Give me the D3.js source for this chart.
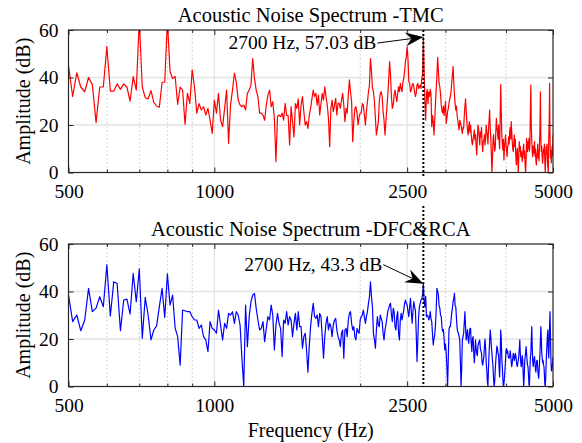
<!DOCTYPE html>
<html>
<head>
<meta charset="utf-8">
<script src="https://cdn.jsdelivr.net/npm/d3@7/dist/d3.min.js"></script>
<style>
  html, body { margin: 0; padding: 0; background: #fff; }
  svg { display: block; }
  text { font-family: "Liberation Serif", "Times New Roman", "DejaVu Serif", serif; fill: #000; }
</style>
</head>
<body>
<svg id="chart" width="582" height="443"></svg>
<script>
// ---------- data ----------
const freqStart = 500;      // Hz, first spectrum bin
const freqStep = 10;        // Hz, bin spacing
const xTicks = [500, 1000, 2500, 5000];
const xMinorTicks = [600, 700, 800, 900, 2000, 3000, 4000];
const yTicks = [0, 20, 40, 60];
const titles = ["Acoustic Noise Spectrum -TMC", "Acoustic Noise Spectrum -DFC&RCA"];
const markerFreq = 2700;
const markerValues = [57.03, 43.3];
const markerLabels = ["2700 Hz, 57.03 dB", "2700 Hz, 43.3 dB"];

const tmcAmplitude = [
  45, 32, 42, 36, 34, 40, 37, 21, 36, 36,
  53, 34.3, 34.3, 37.3, 35, 37.3, 36, 30, 40.4, 34.7,
  64, 36, 31.5, 31, 34.5, 29.5, 28, 27.5, 38, 38,
  64, 42.5, 39.6, 40.4, 28.7, 36, 34.7, 20.3, 33.3, 29.1,
  43.2, 36, 25, 29, 26.3, 27.7, 24.2, 27, 22, 16.5,
  30.5, 25, 33.3, 22, 19.3, 27, 34.7, 12.3, 28.4, 34.7,
  41.8, 38, 30.5, 28.4, 27.7, 28.4, 26.3, 33.3, 34.7, 36.8,
  48, 39.6, 34.7, 31.9, 25, 25, 24.2, 22, 28.4, 32.6,
  34.7, 27.7, 29.8, 22.8, 4.6, 23.5, 24.2, 23.5, 25, 22,
  29.1, 24, 24, 11.6, 27.7, 21.4, 15, 29, 27, 31,
  20, 28.4, 32, 25.6, 20, 21.4, 18.6, 24, 27, 31,
  34.7, 32, 33.3, 28.4, 32.6, 24.2, 29, 33.3, 30.5, 36.1,
  32, 28.4, 22.8, 10.9, 27, 30.5, 25.6, 28.4, 31.2, 24.2,
  29.1, 29.1, 27, 30.5, 33.3, 28.4, 21.4, 27, 25, 32.6,
  39, 34, 29.8, 13, 21.4, 27, 27.7, 25, 20, 23.5,
  25, 25, 29, 28.4, 24.2, 20, 25.6, 29.8, 34, 36.8,
  48, 42.5, 35.4, 34, 29.8, 22.8, 15.8, 18.6, 21.4, 29.8,
  33.3, 34, 32, 25.6, 22, 15.8, 21.4, 27, 32.6, 39,
  46.7, 41, 32, 27, 28.4, 32.6, 34.7, 32, 29.8, 33.3,
  36.1, 34, 37.5, 35.4, 34, 38.2, 39.6, 42.5, 46.7, 48.8,
  52.9, 48, 38.2, 37.5, 34, 34.7, 36.8, 37.5, 36.1, 34,
  32, 33.3, 36.8, 37.5, 35.4, 36.1, 36.8, 35.4, 39.6, 41,
  57.03, 42, 30, 22, 33, 35, 29, 34, 32, 35,
  33, 19.3, 24, 21.4, 15.8, 22, 29, 35, 41, 48.5,
  43, 37.5, 36, 33, 28.4, 26, 25, 28, 24, 27,
  30, 20.7, 23, 25.6, 27, 29, 31, 32, 34, 38,
  41, 44.6, 38, 32.6, 29, 26.3, 28, 24.2, 22, 20,
  17.9, 22, 21, 20, 18, 16.5, 19, 18.6, 24, 28,
  31, 26, 21.4, 18, 15.8, 19, 21.4, 17, 20, 16,
  13, 11.6, 14, 15.8, 18, 13.7, 16, 11, 7.4, 14,
  20, 18.6, 15, 11.6, 17, 15, 19, 12, 8.8, 13,
  13.7, 16, 11.6, 14, 20, 17, 15.8, 12, 18, 22,
  26.3, 19, 14.4, 8, 0, 6, 13.7, 16, 12, 9,
  10.2, 17, 22.8, 19, 17.2, 14, 20, 13.7, 10, 24,
  37, 26, 15.8, 12, 9.5, 14, 5.3, 10, 13, 15.8,
  12, 9, 6.7, 11, 11.6, 15, 12, 17.2, 19, 14,
  21.4, 17, 13, 10, 8.8, 12, 15.8, 11, 14, 7,
  3.2, 8, 10.2, 5, 0, 7, 13, 9, 11, 6.7,
  9, 7, 4.6, 8, 10.2, 12, 6, 9, 3, 0,
  5, 14.4, 11, 8.8, 13, 10, 14.4, 9, 12, 25,
  36.8, 20, 13, 9, 6.7, 11, 8, 10.2, 13, 7,
  10, 5, 3.2, 7, 8.8, 12, 6, 9, 5, 12,
  20, 34, 14, 8.8, 11, 6, 3.9, 7, 10, 8.8,
  12, 4, 0, 6, 10.9, 8, 12, 5, 2, 0,
  15, 20, 37.5, 14, 6, 9, 4, 8.8, 11, 7,
  15.8
];

const dfcAmplitude = [
  38.5, 27.3, 30.1, 23.5, 28, 41.3, 31.5, 33, 37.8, 33.6,
  51.2, 29.7, 44.1, 43.4, 23.5, 36.4, 36.8, 30.5, 47.6, 35.7,
  49.5, 20.3, 37.5, 30.1, 19.6, 23.8, 25.5, 33.6, 41.3, 29.1,
  47.4, 34.3, 38.5, 24.6, 21, 9, 32.2, 31.9, 31.5, 31.5,
  29.4, 28, 28, 24.5, 25.9, 21, 19.6, 14.7, 27.3, 24.5,
  23.8, 22.4, 32.2, 25.9, 19.6, 26.6, 24.5, 30.8, 30.1, 31.5,
  26.6, 31.5, 30.1, 25.9, 12, 0, 34.3, 16.8, 29.4, 35.7,
  38.5, 39.2, 32.9, 28, 23.8, 24.5, 27.3, 18.9, 24.5, 29.4,
  28, 34.3, 30.1, 15.4, 25.9, 30.8, 26.6, 24.5, 12.6, 28,
  26.6, 31.5, 25.9, 29.4, 28, 21, 26.6, 30.8, 23.8, 31.5,
  25.2, 25.2, 16.1, 21, 22.4, 15.4, 6, 17, 25.2, 30.8,
  35, 29.4, 28.7, 30.1, 25.2, 30.8, 29.4, 21, 11.9, 21,
  26.6, 29.4, 23.8, 26.6, 25.2, 21, 25.9, 28, 28.7, 23.8,
  21, 19.6, 16.8, 22.4, 23.8, 11.9, 23.8, 24.5, 21, 28,
  30.8, 31.5, 26.6, 23.8, 25.2, 21, 19.6, 24.5, 23.1, 22.4,
  28, 29.4, 30.1, 32.2, 29.4, 26.6, 29.4, 31.5, 35, 37.8,
  44.1, 37.8, 33.6, 22.4, 19.6, 16.1, 23.8, 29.4, 26, 25.2,
  30.1, 28.7, 27.3, 22.4, 19.6, 23.8, 25.9, 28.7, 31.5, 32.9,
  34.3, 35, 30.1, 27.3, 32.9, 31.5, 25.2, 23.8, 29.4, 31.5,
  22.4, 19.6, 28, 30.8, 28, 30.1, 32.2, 35, 36.4, 35,
  34.3, 31.5, 29.4, 33.6, 37.1, 31.5, 26.6, 31.5, 35.7, 33.6,
  32.2, 22.4, 10.5, 19.6, 29.4, 33.6, 35, 36.4, 37.1, 38.5,
  43.3, 36, 33.6, 38, 29.4, 30, 29.6, 28, 29, 31.5,
  28.5, 27.3, 22, 17.5, 20, 21.7, 26, 32, 41.3, 40,
  38.5, 34, 33, 30, 29.4, 25, 23.1, 24, 20, 15.4,
  18, 14, 8, 0, 12, 24, 25.2, 25.2, 28, 31,
  33, 35.7, 37, 39.2, 34, 33.6, 29, 24.5, 23, 22.4,
  21, 19.6, 10, 0, 8, 19.6, 21, 22.4, 27, 31.5,
  25, 19.6, 22, 24, 20, 18.2, 22, 24.5, 24.5, 18,
  14.7, 20, 21, 15, 10, 14, 19.6, 16, 14, 13,
  17, 18.2, 19, 19.6, 16, 15, 14, 10, 9, 11,
  12.6, 17, 20, 16, 10, 7, 2, 0, 8, 14,
  19, 23.8, 21, 17, 14, 11, 8.4, 3, 0, 2,
  7, 11, 14, 17, 16, 14, 13.3, 8, 4, 12,
  23.8, 20, 12, 8.4, 3, 0, 1, 4, 7, 11,
  15.4, 16, 14, 15, 13, 11.9, 12, 13, 15, 13,
  10, 8.4, 10, 12, 14, 13, 11, 12, 14, 13,
  11, 9, 8.4, 10, 11, 13, 16, 19.6, 14, 10,
  8.4, 10, 13, 11, 5, 0, 4, 10, 12.6, 14,
  16.8, 14, 11, 9, 8.4, 5, 1, 0, 7, 12,
  14, 20, 25.2, 17, 11, 8.4, 10, 12, 12.6, 10,
  7, 6, 9, 11, 11, 8, 5, 3.5, 6, 10,
  14, 20, 25.2, 20, 14, 12, 10, 11, 9, 8.4,
  5, 1, 0, 4, 10, 14, 18, 22, 23.8, 16,
  12, 18, 26, 31.5, 22, 12, 7, 6.5, 8, 10,
  12.6
];

// ---------- layout ----------
const plotLeft = 68.5, plotRight = 553;
const panels = [
  { top: 30, bottom: 172.5, values: tmcAmplitude, color: "#ff0000", title: titles[0],
    marker: markerValues[0], label: markerLabels[0], arrowFrom: [-46, 6], lineTop: 30, lineBottom: 178 },
  { top: 244, bottom: 386.5, values: dfcAmplitude, color: "#0000ff", title: titles[1],
    marker: markerValues[1], label: markerLabels[1], arrowFrom: [-40, -19], lineTop: 206, lineBottom: 387 }
];

const TICKFONT = 19.5, LABELFONT = 20, ANNOFONT = 19.5, TITLEFONT = 20.5;
const FAMILY = "Liberation Serif, Times New Roman, DejaVu Serif, serif";
const svg = d3.select("#chart");
const x = d3.scaleLog().domain([500, 5000]).range([plotLeft, plotRight]);

panels.forEach((p, i) => {
  const y = d3.scaleLinear().domain([0, 60]).range([p.bottom, p.top]);
  const g = svg.append("g");
  const clipId = "clip" + i;
  svg.append("clipPath").attr("id", clipId)
    .append("rect").attr("x", plotLeft).attr("y", p.top)
    .attr("width", plotRight - plotLeft).attr("height", p.bottom - p.top);

  // grid
  const grid = g.append("g");
  grid.selectAll(".gx").data(xTicks.slice(1, -1)).join("line")
    .attr("x1", d => x(d)).attr("x2", d => x(d)).attr("y1", p.top).attr("y2", p.bottom)
    .attr("stroke", "#e3e3e3").attr("stroke-width", 1.3);
  grid.selectAll(".gy").data(yTicks.slice(1, -1)).join("line")
    .attr("x1", plotLeft).attr("x2", plotRight).attr("y1", d => y(d)).attr("y2", d => y(d))
    .attr("stroke", "#e3e3e3").attr("stroke-width", 1.3);
  grid.selectAll(".gm").data(xMinorTicks).join("line")
    .attr("x1", d => x(d)).attr("x2", d => x(d)).attr("y1", p.top).attr("y2", p.bottom)
    .attr("stroke", "#c8c8c8").attr("stroke-width", 1).attr("stroke-dasharray", "1.5,2.5");

  // series
  const line = d3.line()
    .x((d, k) => x(freqStart + k * freqStep))
    .y(d => y(d));
  g.append("path").datum(p.values)
    .attr("clip-path", `url(#${clipId})`)
    .attr("fill", "none").attr("stroke", p.color).attr("stroke-width", 1.2)
    .attr("stroke-linejoin", "round")
    .attr("d", line);

  // axes (ticks inward)
  const axB = d3.axisBottom(x).tickValues(xTicks).tickFormat(d3.format("d")).tickSizeInner(-5).tickSizeOuter(0).tickPadding(12);
  const axT = d3.axisTop(x).tickValues(xTicks).tickFormat("").tickSizeInner(-5).tickSizeOuter(0);
  const axL = d3.axisLeft(y).tickValues(yTicks).tickSizeInner(-5).tickSizeOuter(0).tickPadding(10);
  const axR = d3.axisRight(y).tickValues(yTicks).tickFormat("").tickSizeInner(-5).tickSizeOuter(0);
  const mB = d3.axisBottom(x).tickValues(xMinorTicks).tickFormat("").tickSizeInner(-3).tickSizeOuter(0);
  const mT = d3.axisTop(x).tickValues(xMinorTicks).tickFormat("").tickSizeInner(-3).tickSizeOuter(0);

  const styleAxis = sel => {
    sel.attr("font-family", FAMILY);
    sel.select(".domain").remove();
    sel.selectAll("line").attr("stroke", "#262626");
    sel.selectAll("text").attr("font-family", FAMILY)
      .attr("font-size", TICKFONT).attr("fill", "#000");
  };
  g.append("g").attr("transform", `translate(0,${p.bottom})`).call(axB).call(styleAxis);
  g.append("g").attr("transform", `translate(0,${p.top})`).call(axT).call(styleAxis);
  g.append("g").attr("transform", `translate(0,${p.bottom})`).call(mB).call(styleAxis);
  g.append("g").attr("transform", `translate(0,${p.top})`).call(mT).call(styleAxis);
  g.append("g").attr("transform", `translate(${plotLeft},0)`).call(axL).call(styleAxis);
  g.append("g").attr("transform", `translate(${plotRight},0)`).call(axR).call(styleAxis);

  // box
  g.append("rect").attr("x", plotLeft).attr("y", p.top)
    .attr("width", plotRight - plotLeft).attr("height", p.bottom - p.top)
    .attr("fill", "none").attr("stroke", "#262626").attr("stroke-width", 1.2);

  // title
  g.append("text").attr("x", (plotLeft + plotRight) / 2).attr("y", p.top - 8)
    .attr("text-anchor", "middle").attr("font-size", TITLEFONT).text(p.title);

  // y label
  g.append("text")
    .attr("transform", `translate(30,${(p.top + p.bottom) / 2}) rotate(-90)`)
    .attr("text-anchor", "middle").attr("font-size", LABELFONT).text("Amplitude (dB)");

  // dotted marker line
  g.append("line").attr("x1", x(markerFreq)).attr("x2", x(markerFreq))
    .attr("y1", p.lineTop).attr("y2", p.lineBottom)
    .attr("stroke", "#000").attr("stroke-width", 2).attr("stroke-dasharray", "2,2");

  // annotation arrow
  const tip = [x(markerFreq), y(p.marker)];
  const start = [tip[0] + p.arrowFrom[0], tip[1] + p.arrowFrom[1]];
  const dx = tip[0] - start[0], dy = tip[1] - start[1];
  const len = Math.hypot(dx, dy), ux = dx / len, uy = dy / len, nx = -uy, ny = ux;
  const headL = 18, headW = 7, notch = 12;
  const back = [tip[0] - ux * headL, tip[1] - uy * headL];
  const nb = [tip[0] - ux * notch, tip[1] - uy * notch];
  g.append("line").attr("x1", start[0]).attr("y1", start[1]).attr("x2", nb[0]).attr("y2", nb[1])
    .attr("stroke", "#000").attr("stroke-width", 1);
  g.append("path")
    .attr("d", `M${tip[0]},${tip[1]} L${back[0] + nx * headW},${back[1] + ny * headW} L${nb[0]},${nb[1]} L${back[0] - nx * headW},${back[1] - ny * headW} Z`)
    .attr("fill", "#000");
  g.append("text").attr("x", start[0] - 1).attr("y", start[1] + 6)
    .attr("text-anchor", "end").attr("font-size", ANNOFONT).text(p.label);
});

// x label
svg.append("text").attr("x", (plotLeft + plotRight) / 2).attr("y", 437)
  .attr("text-anchor", "middle").attr("font-size", LABELFONT).text("Frequency (Hz)");
</script>
</body>
</html>
